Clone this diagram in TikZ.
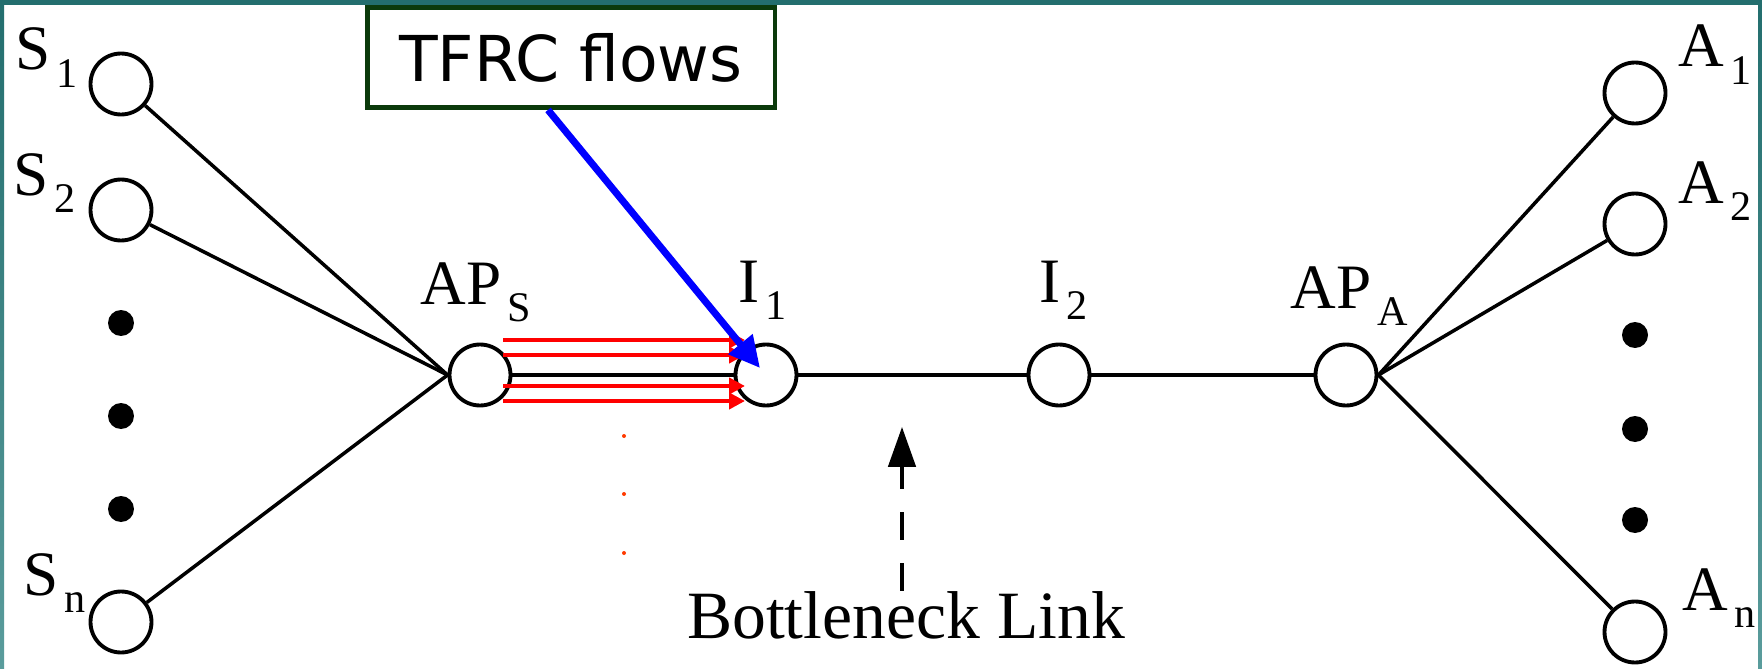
\documentclass[tikz,border=0pt]{standalone}
\usepackage{fontspec}
\setmainfont{Liberation Serif}
\newfontfamily\boxfont{DejaVu Sans}
\usetikzlibrary{arrows.meta,positioning,calc}
\definecolor{frameteal}{HTML}{236E6E}
\definecolor{frametealpale}{HTML}{5A9C9C}
\definecolor{calloutgreen}{HTML}{0B3A0B}
\definecolor{flowred}{HTML}{FF0000}
\definecolor{dotred}{HTML}{FF3A00}
\newcommand{\idx}[1]{\hspace{0.1em}\raisebox{-0.28em}{\fontsize{24}{24}\selectfont #1}}

\begin{document}
\begin{tikzpicture}[
  x=0.02cm, y=-0.02cm,
  host/.style={
    circle,
    draw,
    line width=2.2pt,
    minimum size=1.22cm,
    inner sep=0pt
  },
  moredots/.style={
    circle,
    fill=black,
    minimum size=0.52cm,
    inner sep=0pt
  },
  tag/.style={
    inner sep=0pt,
    anchor=base west,
    font=\fontsize{36}{36}\selectfont
  },
  callout/.style={
    rectangle,
    draw=calloutgreen,
    line width=2.8pt,
    fill=white,
    minimum width=8.16cm,
    minimum height=2cm,
    font=\boxfont\fontsize{36}{36}\selectfont
  },
  link/.style={line width=2pt},
  flow/.style={flowred, line width=2.4pt, -{Triangle[length=0.32cm, width=0.32cm]}},
  pointer/.style={blue, line width=4pt, -{Triangle[length=0.62cm, width=0.6cm]}},
  neckarrow/.style={line width=1.9pt, dash pattern=on 0.56cm off 0.46cm, -{Triangle[length=0.8cm, width=0.55cm]}}
]

\fill[white] (0,0) rectangle (1762,669);
\useasboundingbox (0,0) rectangle (1762,669);
\fill[frameteal] (0,0) rectangle (1762,5);
\shade[top color=frameteal, bottom color=frametealpale] (0,0) rectangle (4,669);
\shade[top color=frameteal, bottom color=frametealpale] (1758,0) rectangle (1762,669);

% senders
\node[host] (s1) at (121,84) {};
\node[host] (s2) at (121,210) {};
\node[host] (sn) at (121,622) {};
\foreach \y in {323,416,509}
  \node[moredots] at (121,\y) {};

% receivers
\node[host] (a1) at (1635,93) {};
\node[host] (a2) at (1635,224) {};
\node[host] (an) at (1635,632) {};
\foreach \y in {335,429,520}
  \node[moredots] at (1635,\y) {};

% core path
\node[host] (aps) at (480,375) {};
\node[host] (i1) at (766,375) {};
\node[host] (i2) at (1059,375) {};
\node[host] (apa) at (1346,375) {};

\node[tag] at (15,70) {S\idx{1}};
\node[tag] at (13,195) {S\idx{2}};
\node[tag] at (23,595) {S\idx{n}};
\node[tag] at (1678,67) {A\idx{1}};
\node[tag] at (1678,203) {A\idx{2}};
\node[tag] at (1682,610) {A\idx{n}};
\node[tag] at (420,304) {AP\idx{S}};
\node[tag] at (738,302) {I\idx{1}};
\node[tag] at (1039,302) {I\idx{2}};
\node[tag] at (1290,308) {AP\idx{A}};

\foreach \n in {s1,s2,sn}
  \draw[link] (\n) -- (aps.west);
\foreach \n in {a1,a2,an}
  \draw[link] (\n) -- (apa.east);
\draw[link] (aps) -- (i1) -- (i2) -- (apa);

\foreach \dy in {-35,-20,11,26}
  \draw[flow] ($(aps.center)+(23,\dy)$) -- ($(i1.center)+(-21,\dy)$);
\foreach \y in {436,494,553}
  \fill[dotred] (624,\y) circle (0.04cm);

\node[callout] (tfrc) at (571,57.5) {TFRC flows};
\draw[pointer] ([xshift=-0.46cm]tfrc.south) -- ($(i1.center)+(-6,-7)$);

\node[tag, anchor=base, font=\fontsize{38.5}{38.5}\selectfont] (neck) at (906,638) {Bottleneck Link};
\coordinate (necktip) at (902,427);
\draw[neckarrow] (neck.north -| necktip) -- (necktip);

\end{tikzpicture}
\end{document}
